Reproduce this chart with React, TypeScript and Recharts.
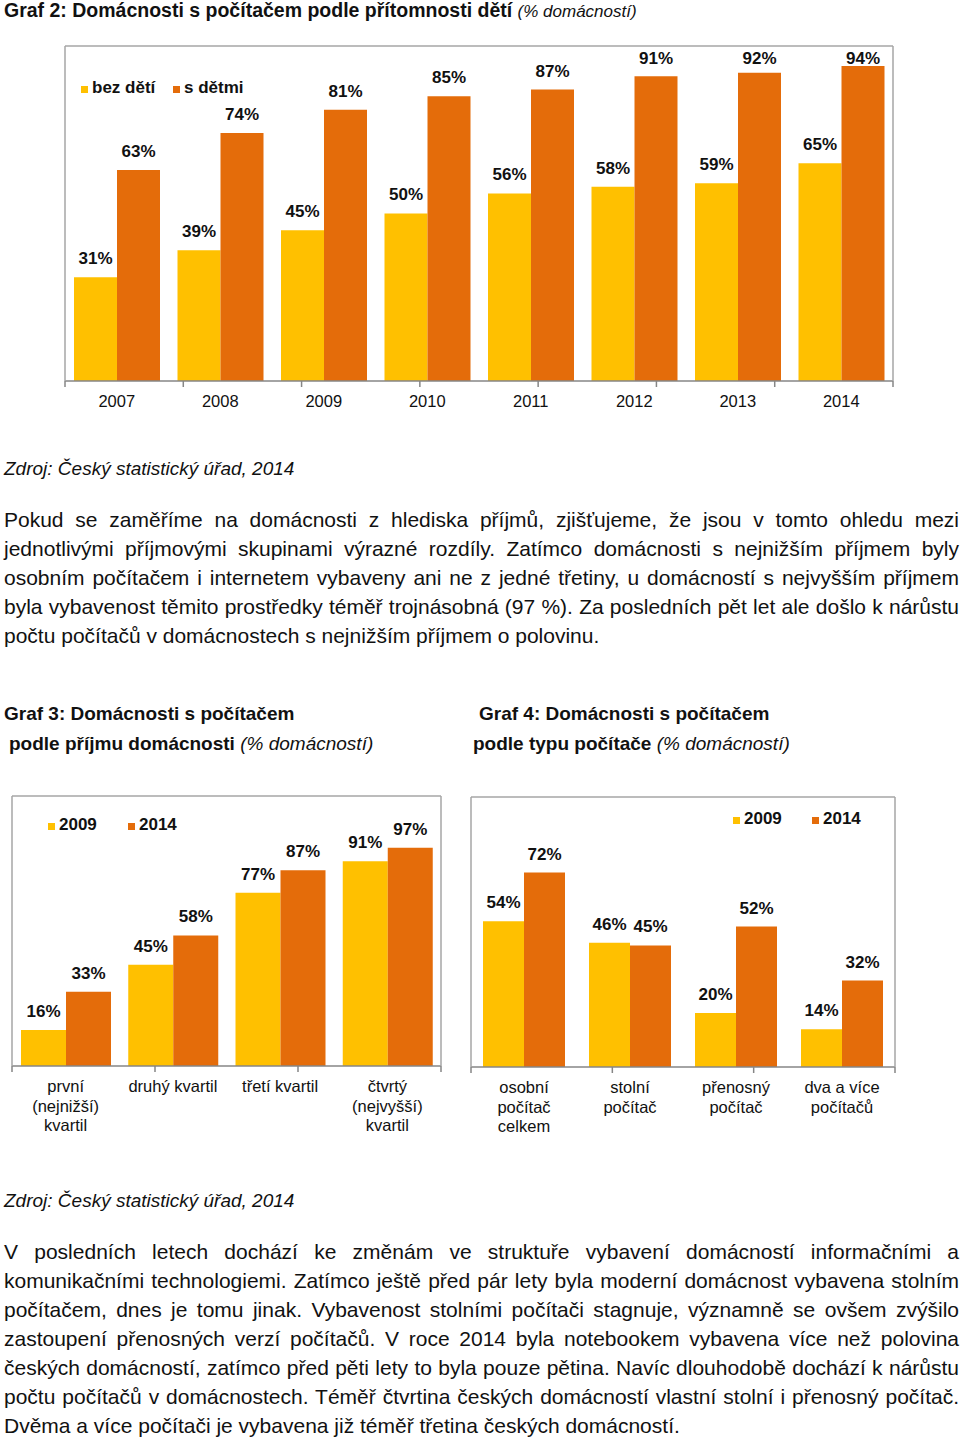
import React from 'react';
import { BarChart, Bar, XAxis, YAxis, LabelList } from 'recharts';

const YELLOW = '#FFC000';
const ORANGE = '#E46C0A';
const FRAME = '#A6A6A6';
const AXIS = '#868686';
const FONT = '"Liberation Sans", Arial, Helvetica, sans-serif';

// Graf 2
const years = ['2007', '2008', '2009', '2010', '2011', '2012', '2013', '2014'];
const bezDeti = [31, 39, 45, 50, 56, 58, 59, 65];
const sDetmi = [63, 74, 81, 85, 87, 91, 92, 94];
const graf2Series = ['bez dětí', 's dětmi'];

// Graf 3
const kvartily = ['první\n(nejnižší)\nkvartil', 'druhý kvartil', 'třetí kvartil', 'čtvrtý\n(nejvyšší)\nkvartil'];
const prijem2009 = [16, 45, 77, 91];
const prijem2014 = [33, 58, 87, 97];

// Graf 4
const typy = ['osobní\npočítač\ncelkem', 'stolní\npočítač', 'přenosný\npočítač', 'dva a více\npočítačů'];
const typ2009 = [54, 46, 20, 14];
const typ2014 = [72, 45, 52, 32];
const yearSeries = ['2009', '2014'];

const para1 = [
  'Pokud se zaměříme na domácnosti z hlediska příjmů, zjišťujeme, že jsou v tomto ohledu mezi',
  'jednotlivými příjmovými skupinami výrazné rozdíly. Zatímco domácnosti s nejnižším příjmem byly',
  'osobním počítačem i internetem vybaveny ani ne z jedné třetiny, u domácností s nejvyšším příjmem',
  'byla vybavenost těmito prostředky téměř trojnásobná (97 %). Za posledních pět let ale došlo k nárůstu',
  'počtu počítačů v domácnostech s nejnižším příjmem o polovinu.',
];

const para2 = [
  'V posledních letech dochází ke změnám ve struktuře vybavení domácností informačními a',
  'komunikačními technologiemi. Zatímco ještě před pár lety byla moderní domácnost vybavena stolním',
  'počítačem, dnes je tomu jinak. Vybavenost stolními počítači stagnuje, významně se ovšem zvýšilo',
  'zastoupení přenosných verzí počítačů. V roce 2014 byla notebookem vybavena více než polovina',
  'českých domácností, zatímco před pěti lety to byla pouze pětina. Navíc dlouhodobě dochází k nárůstu',
  'počtu počítačů v domácnostech. Téměř čtvrtina českých domácností vlastní stolní i přenosný počítač.',
  'Dvěma a více počítači je vybavena již téměř třetina českých domácností.',
];

const CatTick = (props: any) => {
  const { x, y, payload } = props;
  const lines = String(payload.value).split('\n');
  return (
    <text x={x} y={y} textAnchor="middle" fontFamily={FONT} fontSize={16.5} fill="#111">
      {lines.map((l, i) => (
        <tspan key={i} x={x} y={y + 19.5 + i * 19.5} dy="0.35em">{l}</tspan>
      ))}
    </text>
  );
};

const makeLabel = (minY: number) => (props: any) => {
  const { x, y, width, value } = props;
  const cy = Math.max(Number(y) - 19, minY);
  return (
    <text x={Number(x) + Number(width) / 2} y={cy} dy="0.35em" textAnchor="middle"
      fontFamily={FONT} fontSize={17} fontWeight="bold" fill="#111">
      {value}%
    </text>
  );
};

interface ChartProps {
  cats: string[];
  a: number[];
  b: number[];
  max: number;
  width: number;
  height: number;
  // where the plot frame sits inside the svg
  margin: { top: number; right: number; bottom: number; left: number };
  axisH: number;
  gap: number;
  minLabelY: number;
}

// axes need a non-zero size to be drawn, so each frame axis takes 1px out of the margin
function FramedBars({ cats, a, b, max, width, height, margin, axisH, gap, minLabelY }: ChartProps) {
  const data = cats.map((c, i) => ({ cat: c, a: a[i], b: b[i] }));
  const bounds = cats.map((_, i) => i).concat([cats.length]);
  const m = { top: margin.top - 1, right: margin.right - 1, bottom: margin.bottom, left: margin.left - 1 };
  return (
    <BarChart width={width} height={height} data={data} margin={m} barCategoryGap={gap} barGap={0}>
      <XAxis xAxisId="cat" dataKey="cat" height={axisH - 1} tickSize={0} tickMargin={0} interval={0}
        axisLine={false} tickLine={false} tick={<CatTick />} />
      <XAxis xAxisId="a_grid" type="number" domain={[0, cats.length]} ticks={bounds} allowDataOverflow
        height={1} tickSize={6} tick={() => <g />}
        axisLine={{ stroke: AXIS, strokeWidth: 1.5 }} tickLine={{ stroke: AXIS, strokeWidth: 1.5 }} />
      <XAxis xAxisId="top" dataKey="cat" orientation="top" height={1} tick={false} tickLine={false}
        axisLine={{ stroke: FRAME, strokeWidth: 1.5 }} />
      <YAxis yAxisId="l" domain={[0, max]} width={1} tick={false} tickLine={false}
        axisLine={{ stroke: FRAME, strokeWidth: 1.5 }} />
      <YAxis yAxisId="r" orientation="right" domain={[0, max]} width={1} tick={false} tickLine={false}
        axisLine={{ stroke: FRAME, strokeWidth: 1.5 }} />
      <Bar xAxisId="cat" yAxisId="l" dataKey="a" fill={YELLOW} isAnimationActive={false}>
        <LabelList dataKey="a" content={makeLabel(minLabelY)} />
      </Bar>
      <Bar xAxisId="cat" yAxisId="l" dataKey="b" fill={ORANGE} isAnimationActive={false}>
        <LabelList dataKey="b" content={makeLabel(minLabelY)} />
      </Bar>
    </BarChart>
  );
}

function Legend2({ names, lefts, cy }: { names: string[]; lefts: number[]; cy: number }) {
  const colors = [YELLOW, ORANGE];
  return (
    <>
      {names.map((n, i) => (
        <div key={n} style={{ position: 'absolute', left: lefts[i], top: cy - 11, height: 22, display: 'flex', alignItems: 'center' }}>
          <span style={{ display: 'inline-block', width: 7, height: 7, background: colors[i], marginTop: 3, marginRight: 4 }} />
          <span style={{ fontSize: 17, fontWeight: 'bold', color: '#111', lineHeight: '22px' }}>{n}</span>
        </div>
      ))}
    </>
  );
}

function Paragraph({ lines, top }: { lines: string[]; top: number }) {
  return (
    <>
      {lines.map((l, i) => (
        <div key={i} style={{
          position: 'absolute', left: 4, top: top + i * 29, width: 955, height: 29,
          fontSize: 21, lineHeight: '29px', color: '#111',
          textAlign: 'justify', textAlignLast: i === lines.length - 1 ? 'left' : 'justify',
        }}>{l}</div>
      ))}
    </>
  );
}

export default function App() {
  return (
    <div style={{ position: 'absolute', left: 0, top: 0, width: 960, height: 1438, fontFamily: FONT, background: '#fff', overflow: 'hidden' }}>
      <div style={{ position: 'absolute', left: 4, top: -1, fontSize: 19.5, lineHeight: '22px', color: '#111', whiteSpace: 'nowrap' }}>
        <b>Graf 2: Domácnosti s počítačem podle přítomnosti dětí </b>
        <i style={{ fontSize: 17 }}>(% domácností)</i>
      </div>

      <div style={{ position: 'absolute', left: 0, top: 0 }}>
        <FramedBars cats={years} a={bezDeti} b={sDetmi} max={100} width={960} height={430}
          margin={{ top: 46, right: 67, bottom: 0, left: 65 }} axisH={49} gap={9} minLabelY={58} />
      </div>
      <Legend2 names={graf2Series} lefts={[81, 173]} cy={88} />

      <div style={{ position: 'absolute', left: 4, top: 458, fontSize: 19, lineHeight: '22px', fontStyle: 'italic', color: '#111' }}>
        Zdroj: Český statistický úřad, 2014
      </div>

      <Paragraph lines={para1} top={504.5} />

      <div style={{ position: 'absolute', left: 4, top: 703, fontSize: 19, lineHeight: '22px', color: '#111', whiteSpace: 'nowrap' }}>
        <b>Graf 3: Domácnosti s počítačem</b>
      </div>
      <div style={{ position: 'absolute', left: 9, top: 733, fontSize: 19, lineHeight: '22px', color: '#111', whiteSpace: 'nowrap' }}>
        <b>podle příjmu domácnosti </b><i>(% domácností)</i>
      </div>
      <div style={{ position: 'absolute', left: 479, top: 703, fontSize: 19, lineHeight: '22px', color: '#111', whiteSpace: 'nowrap' }}>
        <b>Graf 4: Domácnosti s počítačem</b>
      </div>
      <div style={{ position: 'absolute', left: 473, top: 733, fontSize: 19, lineHeight: '22px', color: '#111', whiteSpace: 'nowrap' }}>
        <b>podle typu počítače </b><i>(% domácností)</i>
      </div>

      <div style={{ position: 'absolute', left: 0, top: 760 }}>
        <FramedBars cats={kvartily} a={prijem2009} b={prijem2014} max={120} width={460} height={400}
          margin={{ top: 36, right: 19, bottom: 0, left: 12 }} axisH={94} gap={9} minLabelY={0} />
      </div>
      <Legend2 names={yearSeries} lefts={[48, 128]} cy={825} />

      <div style={{ position: 'absolute', left: 460, top: 760 }}>
        <FramedBars cats={typy} a={typ2009} b={typ2014} max={100} width={500} height={400}
          margin={{ top: 37, right: 65, bottom: 0, left: 11 }} axisH={93} gap={12} minLabelY={0} />
      </div>
      <Legend2 names={yearSeries} lefts={[733, 812]} cy={819} />

      <div style={{ position: 'absolute', left: 4, top: 1190, fontSize: 19, lineHeight: '22px', fontStyle: 'italic', color: '#111' }}>
        Zdroj: Český statistický úřad, 2014
      </div>

      <Paragraph lines={para2} top={1236.5} />
    </div>
  );
}
